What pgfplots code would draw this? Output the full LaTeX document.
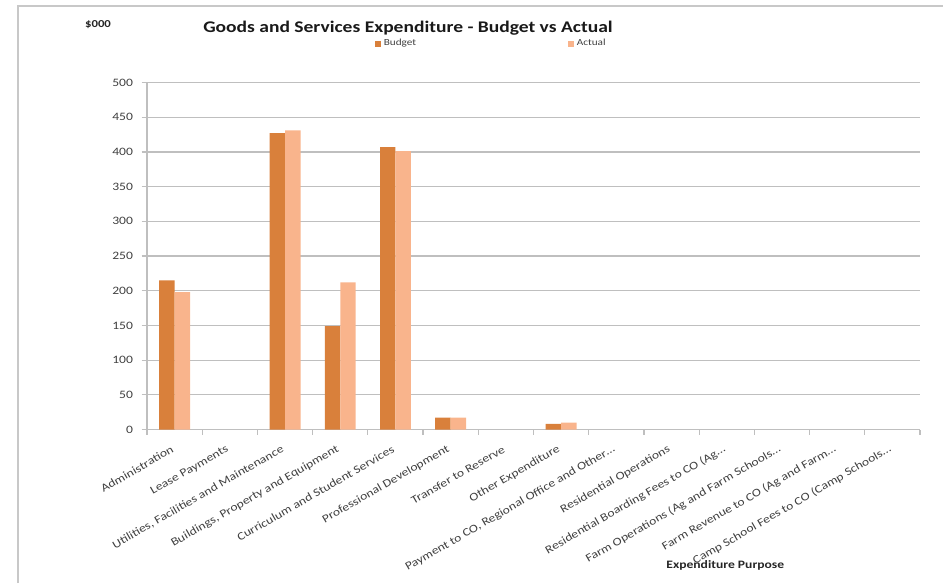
\documentclass[border=0pt]{standalone}
\usepackage{fontspec}
\setmainfont{Carlito}[FakeStretch=1.2]
\usepackage{pgfplots}
\pgfplotsset{compat=1.18}
\definecolor{budget}{RGB}{217,128,59}
\definecolor{actual}{RGB}{249,180,140}
\definecolor{gridc}{RGB}{191,191,191}
\definecolor{txt}{RGB}{64,64,64}
\definecolor{framec}{RGB}{200,200,200}
\begin{document}
\begin{tikzpicture}
\path[use as bounding box] (0,0) rectangle (707.25pt,437.25pt);
\draw[framec, line width=1.2pt] (13.5pt,0pt) -- (13.5pt,432.75pt) -- (707.25pt,432.75pt);
\node[font=\bfseries\fontsize{8}{9}\selectfont, text=black!85] at (73.5pt,418.5pt) {\$000};
\node[font=\bfseries\fontsize{12.2}{14}\selectfont, text=black!90] at (306pt,416pt) {Goods and Services Expenditure - Budget vs Actual};
\node[font=\bfseries\fontsize{8.5}{9}\selectfont, text=black!85] at (544pt,13pt) {Expenditure Purpose};
\begin{axis}[
  at={(110.25pt,115.125pt)}, anchor=south west,
  scale only axis, width=579.75pt, height=260.25pt,
  ybar=0pt, bar width=11.6pt,
  xmin=-0.5, xmax=13.5, ymin=0, ymax=500,
  ytick={0,50,...,500},
  xtick={0,...,13},
  minor xtick={-0.5,0.5,...,13.5},
  major x tick style={draw=none},
  minor x tick style={gridc, line width=0.9pt},
  minor tick length=4pt,
  ytick style={gridc, line width=0.9pt},
  major tick length=4pt,
  tick align=outside,
  axis x line*=bottom, axis y line*=left,
  axis line style={gridc, line width=0.9pt, -},
  ymajorgrids, grid style={gridc, line width=0.9pt},
  /pgf/number format/assume math mode=true,
  yticklabel style={font=\fontsize{8.5}{9}\selectfont, text=txt, xshift=-3pt},
  xticklabels={Administration, Lease Payments, {Utilities, Facilities and Maintenance}, {Buildings, Property and Equipment}, Curriculum and Student Services, Professional Development, Transfer to Reserve, Other Expenditure, {Payment to CO, Regional Office and Other\dots}, Residential Operations, Residential Boarding Fees to CO (Ag\dots, Farm Operations (Ag and Farm Schools\dots, Farm Revenue to CO (Ag and Farm\dots, Camp School Fees to CO (Camp Schools\dots},
  xticklabel style={font=\fontsize{8.5}{9}\selectfont, text=txt, rotate=30, anchor=east, yshift=-8pt, xshift=-3pt},
  legend columns=2,
  legend style={at={(0.446,1.112)}, anchor=center, draw=none, fill=none, font=\fontsize{7}{8}\selectfont, text=txt, /tikz/every even column/.append style={column sep=112pt}},
  legend image code/.code={\fill[#1] (0pt,-2.2pt) rectangle (4.5pt,2.3pt);},
]
\addplot[fill=budget, draw=none] coordinates {(0,215) (2,427) (3,149) (4,407) (5,17) (7,8)};
\addplot[fill=actual, draw=none] coordinates {(0,198) (2,431) (3,212) (4,401) (5,17) (7,10)};
\legend{Budget, Actual}
\end{axis}
\end{tikzpicture}
\end{document}
